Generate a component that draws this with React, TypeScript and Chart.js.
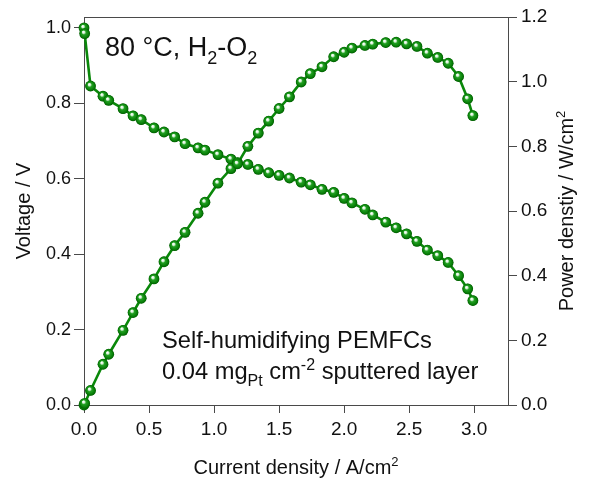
import React, { useEffect, useRef } from "react";
import { Chart, registerables } from "chart.js";

Chart.register(...registerables);

// Current density (A/cm2) shared by both curves
const currentDensity = [
  0, 0.005, 0.05, 0.146, 0.19, 0.3, 0.377, 0.44, 0.538, 0.615,
  0.697, 0.777, 0.877, 0.93, 1.03, 1.13, 1.18, 1.26, 1.34, 1.42,
  1.5, 1.58, 1.67, 1.74, 1.83, 1.92, 2.0, 2.06, 2.16, 2.22,
  2.32, 2.4, 2.48, 2.56, 2.64, 2.72, 2.8, 2.88, 2.95, 2.99,
];

// Cell voltage (V)
const voltage = [
  1.0, 0.985, 0.846, 0.819, 0.808, 0.786, 0.767, 0.757, 0.735, 0.724,
  0.711, 0.693, 0.682, 0.676, 0.664, 0.652, 0.643, 0.638, 0.625, 0.616,
  0.609, 0.602, 0.591, 0.584, 0.572, 0.564, 0.548, 0.536, 0.519, 0.504,
  0.485, 0.47, 0.454, 0.434, 0.411, 0.396, 0.378, 0.343, 0.308, 0.277,
];

// Power density (W/cm2)
const powerDensity = [
  0, 0.005, 0.045, 0.126, 0.157, 0.231, 0.286, 0.33, 0.39, 0.443,
  0.493, 0.534, 0.593, 0.627, 0.686, 0.731, 0.746, 0.8, 0.841, 0.878,
  0.917, 0.953, 0.999, 1.025, 1.046, 1.077, 1.091, 1.104, 1.112, 1.116,
  1.121, 1.122, 1.117, 1.109, 1.088, 1.075, 1.057, 1.016, 0.947, 0.895,
];

// Tick values
const xTickValues = [0, 0.5, 1.0, 1.5, 2.0, 2.5, 3.0];
const voltageTickValues = [0, 0.2, 0.4, 0.6, 0.8, 1.0];
const powerTickValues = [0, 0.2, 0.4, 0.6, 0.8, 1.0, 1.2];

const FONT = "'Liberation Sans', Arial, Helvetica, sans-serif";
const GREEN = "#0a880a";
const AXIS = "#4a4a4a";
const TEXT = "#111111";

type Seg = { t: string; m?: "sub" | "sup" };

function drawRich(
  ctx: CanvasRenderingContext2D,
  segs: Seg[],
  x: number,
  y: number,
  size: number,
  align: "left" | "center" = "left"
) {
  const small = Math.round(size * 0.66);
  const widths = segs.map((s) => {
    ctx.font = `${s.m ? small : size}px ${FONT}`;
    return ctx.measureText(s.t).width;
  });
  const total = widths.reduce((a, b) => a + b, 0);
  let cx = align === "center" ? x - total / 2 : x;
  segs.forEach((s, i) => {
    ctx.font = `${s.m ? small : size}px ${FONT}`;
    const dy = s.m === "sub" ? size * 0.28 : s.m === "sup" ? -size * 0.38 : 0;
    ctx.fillText(s.t, cx, y + dy);
    cx += widths[i];
  });
}

const decorPlugin = {
  id: "decor",
  afterDatasetsDraw(chart: any) {
    const ctx: CanvasRenderingContext2D = chart.ctx;
    ctx.save();
    chart.data.datasets.forEach((_: any, di: number) => {
      const meta = chart.getDatasetMeta(di);
      meta.data.forEach((pt: any) => {
        const { x, y } = pt;
        const r = 5.4;
        const g = ctx.createRadialGradient(x - 1.4, y - 1.8, 0.2, x, y, r);
        g.addColorStop(0, "#ffffff");
        g.addColorStop(0.2, "#d4efd4");
        g.addColorStop(0.4, "#22a022");
        g.addColorStop(0.8, "#087e08");
        g.addColorStop(1, "#005a00");
        ctx.beginPath();
        ctx.arc(x, y, r, 0, Math.PI * 2);
        ctx.fillStyle = g;
        ctx.fill();
      });
    });
    ctx.restore();
  },
  afterDraw(chart: any) {
    const ctx: CanvasRenderingContext2D = chart.ctx;
    const a = chart.chartArea;
    ctx.save();
    // top frame line
    ctx.strokeStyle = AXIS;
    ctx.lineWidth = 1;
    ctx.beginPath();
    ctx.moveTo(a.left, a.top + 0.5);
    ctx.lineTo(a.right, a.top + 0.5);
    ctx.stroke();

    ctx.fillStyle = TEXT;
    ctx.textBaseline = "alphabetic";
    ctx.textAlign = "left";

    // annotations
    drawRich(ctx, [{ t: "80 °C, H" }, { t: "2", m: "sub" }, { t: "-O" }, { t: "2", m: "sub" }], a.left + 21, a.top + 39, 27);
    drawRich(ctx, [{ t: "Self-humidifying PEMFCs" }], a.left + 78, a.top + 331, 23.7);
    drawRich(
      ctx,
      [{ t: "0.04 mg" }, { t: "Pt", m: "sub" }, { t: " cm" }, { t: "-2", m: "sup" }, { t: " sputtered layer" }],
      a.left + 78,
      a.top + 362,
      23.7
    );

    // x axis title
    const cxm = (a.left + a.right) / 2;
    drawRich(ctx, [{ t: "Current density / A/cm" }, { t: "2", m: "sup" }], cxm, 474, 20, "center");

    const cym = (a.top + a.bottom) / 2;
    // left title
    ctx.save();
    ctx.translate(30, cym);
    ctx.rotate(-Math.PI / 2);
    drawRich(ctx, [{ t: "Voltage / V" }], 0, 0, 20, "center");
    ctx.restore();
    // right title
    ctx.save();
    ctx.translate(573, cym);
    ctx.rotate(-Math.PI / 2);
    drawRich(ctx, [{ t: "Power denstiy / W/cm" }, { t: "2", m: "sup" }], 0, 0, 20, "center");
    ctx.restore();

    ctx.restore();
  },
};

export default function App() {
  const ref = useRef<HTMLCanvasElement | null>(null);

  useEffect(() => {
    if (!ref.current) return;
    const vData = currentDensity.map((x, i) => ({ x, y: voltage[i] }));
    const pData = currentDensity.map((x, i) => ({ x, y: powerDensity[i] }));
    const tickFont = (size: number) => ({ family: FONT, size });
    const fmt = (v: any) => Number(v).toFixed(1);
    const chart = new Chart(ref.current, {
      type: "line",
      data: {
        datasets: [
          {
            label: "Voltage",
            data: vData,
            yAxisID: "y",
            borderColor: GREEN,
            borderWidth: 2.6,
            pointRadius: 5,
            pointBackgroundColor: GREEN,
            pointBorderWidth: 0,
            tension: 0,
          },
          {
            label: "Power density",
            data: pData,
            yAxisID: "y1",
            borderColor: GREEN,
            borderWidth: 2.6,
            pointRadius: 5,
            pointBackgroundColor: GREEN,
            pointBorderWidth: 0,
            tension: 0,
          },
        ],
      },
      options: {
        animation: false,
        responsive: false,
        devicePixelRatio: 1,
        layout: { padding: { top: 17, left: 0, right: 0, bottom: 0 } },
        plugins: { legend: { display: false }, tooltip: { enabled: false } },
        scales: {
          x: {
            type: "linear",
            position: "bottom",
            min: 0,
            max: 3.26,
            afterBuildTicks: (s: any) => {
              s.ticks = xTickValues.map((value) => ({ value }));
            },
            afterFit: (s: any) => {
              s.height = 74;
            },
            ticks: {
              color: TEXT,
              font: tickFont(19),
              padding: 5,
              maxRotation: 0,
              autoSkip: false,
              callback: fmt,
            },
            grid: { drawOnChartArea: false, tickLength: 8, color: AXIS },
            border: { display: true, color: AXIS, width: 1 },
          },
          y: {
            type: "linear",
            position: "left",
            min: 0,
            max: 1.029,
            afterBuildTicks: (s: any) => {
              s.ticks = voltageTickValues.map((value) => ({ value }));
            },
            afterFit: (s: any) => {
              s.width = 84;
            },
            ticks: {
              color: TEXT,
              font: tickFont(18),
              padding: 3,
              autoSkip: false,
              callback: fmt,
            },
            grid: { drawOnChartArea: false, tickLength: 10, color: AXIS },
            border: { display: true, color: AXIS, width: 1 },
          },
          y1: {
            type: "linear",
            position: "right",
            min: 0,
            max: 1.2,
            afterBuildTicks: (s: any) => {
              s.ticks = powerTickValues.map((value) => ({ value }));
            },
            afterFit: (s: any) => {
              s.width = 81;
            },
            ticks: {
              color: TEXT,
              font: tickFont(19),
              padding: 4,
              autoSkip: false,
              callback: fmt,
            },
            grid: { drawOnChartArea: false, tickLength: 9, color: AXIS },
            border: { display: true, color: AXIS, width: 1 },
          },
        },
      },
      plugins: [decorPlugin],
    });
    return () => chart.destroy();
  }, []);

  return (
    <div style={{ position: "absolute", left: 0, top: 0, width: 589, height: 479, background: "#fff" }}>
      <canvas ref={ref} width={589} height={479} style={{ display: "block", width: 589, height: 479 }} />
    </div>
  );
}
